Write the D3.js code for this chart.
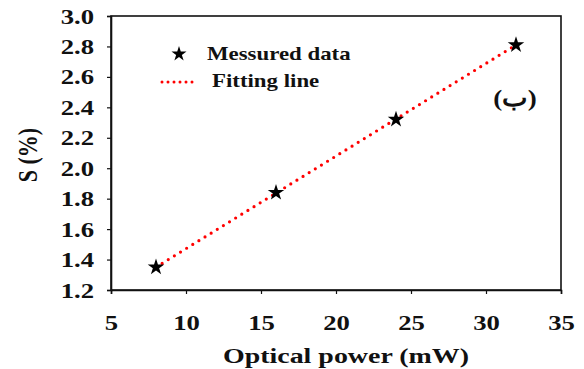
<!DOCTYPE html>
<html>
<head>
<meta charset="utf-8">
<script src="https://cdn.jsdelivr.net/npm/d3@7"></script>
<style>
  body { margin: 0; background: #fff; }
  text { font-family: "Times New Roman", Tinos, serif; font-weight: bold; fill: #111; }
</style>
</head>
<body>
<div class="canva"></div>
<script>
// data
const powerMw = [8, 16, 24, 32];
const sPercent = [1.35, 1.84, 2.32, 2.81];
const fitPower = [8, 32];
const fitS = [1.35, 2.81];
const xTicks = [5, 10, 15, 20, 25, 30, 35];
const yTicks = [1.2, 1.4, 1.6, 1.8, 2.0, 2.2, 2.4, 2.6, 2.8, 3.0];

// the original picture is stretched sideways, so text is too.
// serif face only comes out right at 18px, so bigger text is scaled up
const sx = 1.27;
const base = 18;
const serif = '"Times New Roman", Tinos, serif';
const grow = size => `scale(${sx * size / base},${size / base})`;

const svg = d3.select('.canva').append('svg')
            .attr('width', 584)
            .attr('height', 369);

const x = d3.scaleLinear().domain([5, 35]).range([111, 561]);
const y = d3.scaleLinear().domain([1.2, 3.0]).range([290, 16]);

// frame
svg.append('rect')
        .attr('x', x(5))
        .attr('y', y(3.0))
        .attr('width', x(35) - x(5))
        .attr('height', y(1.2) - y(3.0))
        .attr('fill', 'none')
        .attr('stroke', '#111')
        .attr('stroke-width', 1.6);

// x axis
const gx = svg.append('g')
        .attr('transform', `translate(0,${y(1.2)})`)
        .call(d3.axisBottom(x).tickValues(xTicks).tickSize(4).tickFormat(d3.format('d')));
gx.attr('font-family', serif);
gx.select('.domain').attr('stroke', '#111').attr('stroke-width', 1.6);
gx.selectAll('.tick line').attr('stroke', '#111').attr('stroke-width', 1.2);
gx.selectAll('.tick text')
        .attr('x', 0)
        .attr('y', 0)
        .attr('dy', 0)
        .attr('transform', `translate(0,40) ${grow(21)}`)
        .style('font-size', base + 'px')
        .style('font-family', serif);

// y axis
const gy = svg.append('g')
        .attr('transform', `translate(${x(5)},0)`)
        .call(d3.axisLeft(y).tickValues(yTicks).tickSize(4).tickFormat(d3.format('.1f')));
gy.attr('font-family', serif);
gy.select('.domain').attr('stroke', '#111').attr('stroke-width', 1.6);
gy.selectAll('.tick line').attr('stroke', '#111').attr('stroke-width', 1.2);
gy.selectAll('.tick text')
        .attr('x', 0)
        .attr('dy', 0)
        .attr('transform', `translate(-17,7) ${grow(21)}`)
        .style('font-size', base + 'px')
        .style('font-family', serif);

// axis titles
svg.append('text')
        .text('Optical power (mW)')
        .attr('text-anchor', 'middle')
        .attr('transform', `translate(346,363) ${grow(22)}`)
        .attr('font-size', base);

svg.append('text')
        .text('S (%)')
        .attr('text-anchor', 'middle')
        .attr('transform', `translate(37,155) ${grow(22)} rotate(-90)`)
        .attr('font-size', base);

// fitting line (red dots)
const fitData = fitPower.map((p, i) => [p, fitS[i]]);
svg.append('path')
        .datum(fitData)
        .attr('d', d3.line().x(d => x(d[0])).y(d => y(d[1])))
        .attr('fill', 'none')
        .attr('stroke', '#ff0000')
        .attr('stroke-width', 3.2)
        .attr('stroke-linecap', 'round')
        .attr('stroke-dasharray', '0 7.2');

// measured points (stars)
const star = d3.symbol().type(d3.symbolStar).size(85);
svg.selectAll('.pt')
        .data(powerMw)
        .join('path')
        .attr('class', 'pt')
        .attr('d', star)
        .attr('transform', (d, i) => `translate(${x(d)},${y(sPercent[i])})`)
        .attr('fill', '#000');

// legend
svg.append('path')
        .attr('d', d3.symbol().type(d3.symbolStar).size(70))
        .attr('transform', 'translate(179,54)')
        .attr('fill', '#000');
svg.append('text')
        .text('Messured data')
        .attr('transform', `translate(207,60) ${grow(18)}`)
        .attr('font-size', base);

svg.append('line')
        .attr('x1', 162)
        .attr('x2', 198)
        .attr('y1', 82)
        .attr('y2', 82)
        .attr('stroke', '#ff0000')
        .attr('stroke-width', 3)
        .attr('stroke-linecap', 'round')
        .attr('stroke-dasharray', '0 6');
svg.append('text')
        .text('Fitting line')
        .attr('transform', `translate(212,87) ${grow(18)}`)
        .attr('font-size', base);

// panel label
svg.append('text')
        .text('(ب)')
        .attr('text-anchor', 'middle')
        .attr('direction', 'rtl')
        .attr('transform', `translate(515,106) scale(1.5,1.33)`)
        .attr('font-size', base);
</script>
</body>
</html>
